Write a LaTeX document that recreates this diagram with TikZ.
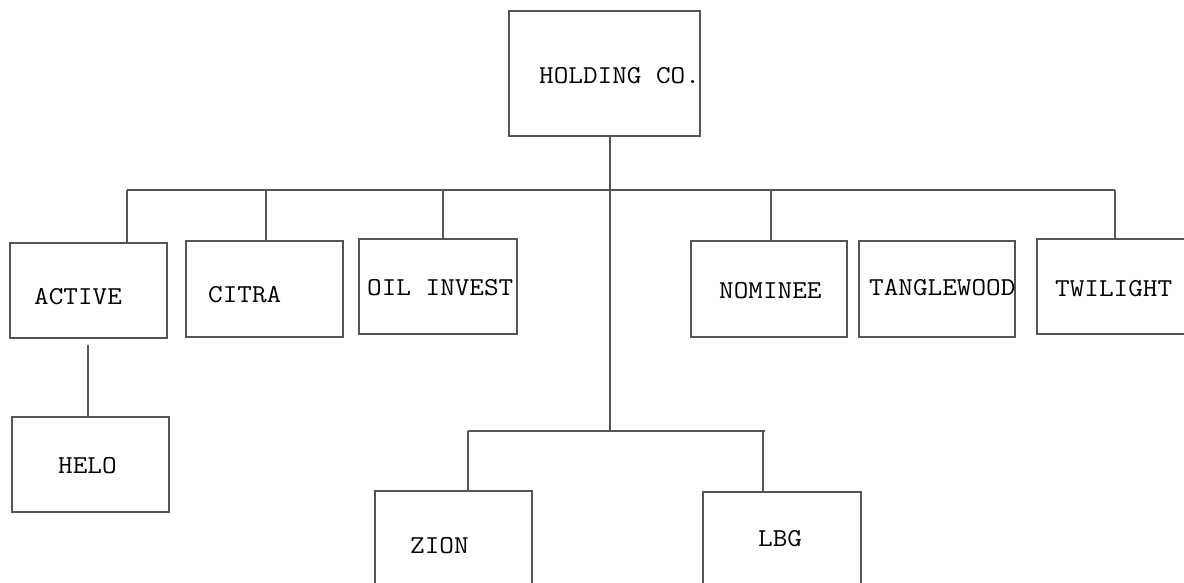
\documentclass[tikz,border=0pt]{standalone}
\usepackage{fontspec}
\newfontfamily\boxfont{Latin Modern Mono}[FakeStretch=1.1]
\begin{document}
\begin{tikzpicture}[x=1pt,y=-1pt,
  box/.style={draw=linegray, line width=1.2pt, rectangle, inner sep=0pt},
  lbl/.style={anchor=west, inner sep=0pt, font=\fontsize{25.8}{28}\boxfont, text=black},
  conn/.style={draw=linegray, line width=1.2pt}]
\definecolor{linegray}{RGB}{85,85,85}
\useasboundingbox (0,0) rectangle (1184,582);
% boxes
\node[box, minimum width=191pt, minimum height=125pt] (holding) at (604.5,73.5) {};
\node[box, minimum width=157pt, minimum height=95pt] (active) at (88.5,290.5) {};
\node[box, minimum width=157pt, minimum height=96pt] (citra) at (264.5,289) {};
\node[box, minimum width=158pt, minimum height=95pt] (oil) at (438,286.5) {};
\node[box, minimum width=156pt, minimum height=96pt] (nominee) at (769,289) {};
\node[box, minimum width=156pt, minimum height=96pt] (tangle) at (937,289) {};
\node[box, minimum width=160pt, minimum height=95pt] (twilight) at (1117,286.5) {};
\node[box, minimum width=157pt, minimum height=95pt] (helo) at (90.5,464.5) {};
\node[box, minimum width=157pt, minimum height=100pt] (zion) at (453.5,541) {};
\node[box, minimum width=158pt, minimum height=100pt] (lbg) at (782,542) {};
% labels
\node[lbl] (holdingT) at (539,76) {HOLDING CO.};
\node[lbl] (activeT) at (34,297) {ACTIVE};
\node[lbl] (citraT) at (208,295) {CITRA};
\node[lbl] (oilT) at (367,288) {OIL INVEST};
\node[lbl] (nomineeT) at (719,291) {NOMINEE};
\node[lbl] (tangleT) at (869,288) {TANGLEWOOD};
\node[lbl] (twilightT) at (1055,289) {TWILIGHT};
\node[lbl] (heloT) at (58,466) {HELO};
\node[lbl] (zionT) at (410,546) {ZION};
\node[lbl] (lbgT) at (758,539) {LBG};
% connector coordinates
\coordinate (barL) at (127,190);
\coordinate (barR) at (1115,190);
\coordinate (barC) at (610,190);
\coordinate (lowC) at (610,431);
\coordinate (lowL) at (468,431);
\coordinate (lowR) at (765,431);
\coordinate (heloTop) at (88,345);
% connectors
\draw[conn] (holding.south -| barC) -- (lowC);
\draw[conn] (barL) -- (barR);
\draw[conn] (barL) -- (active.north -| barL);
\draw[conn] (266,190) -- (citra.north -| 266,0);
\draw[conn] (443,190) -- (oil.north -| 443,0);
\draw[conn] (771,190) -- (nominee.north -| 771,0);
\draw[conn] (barR) -- (twilight.north -| barR);
\draw[conn] (heloTop) -- (helo.north -| heloTop);
\draw[conn] (lowL) -- (lowR);
\draw[conn] (lowL) -- (zion.north -| lowL);
\draw[conn] (763,431) -- (lbg.north -| 763,0);
\end{tikzpicture}
\end{document}
